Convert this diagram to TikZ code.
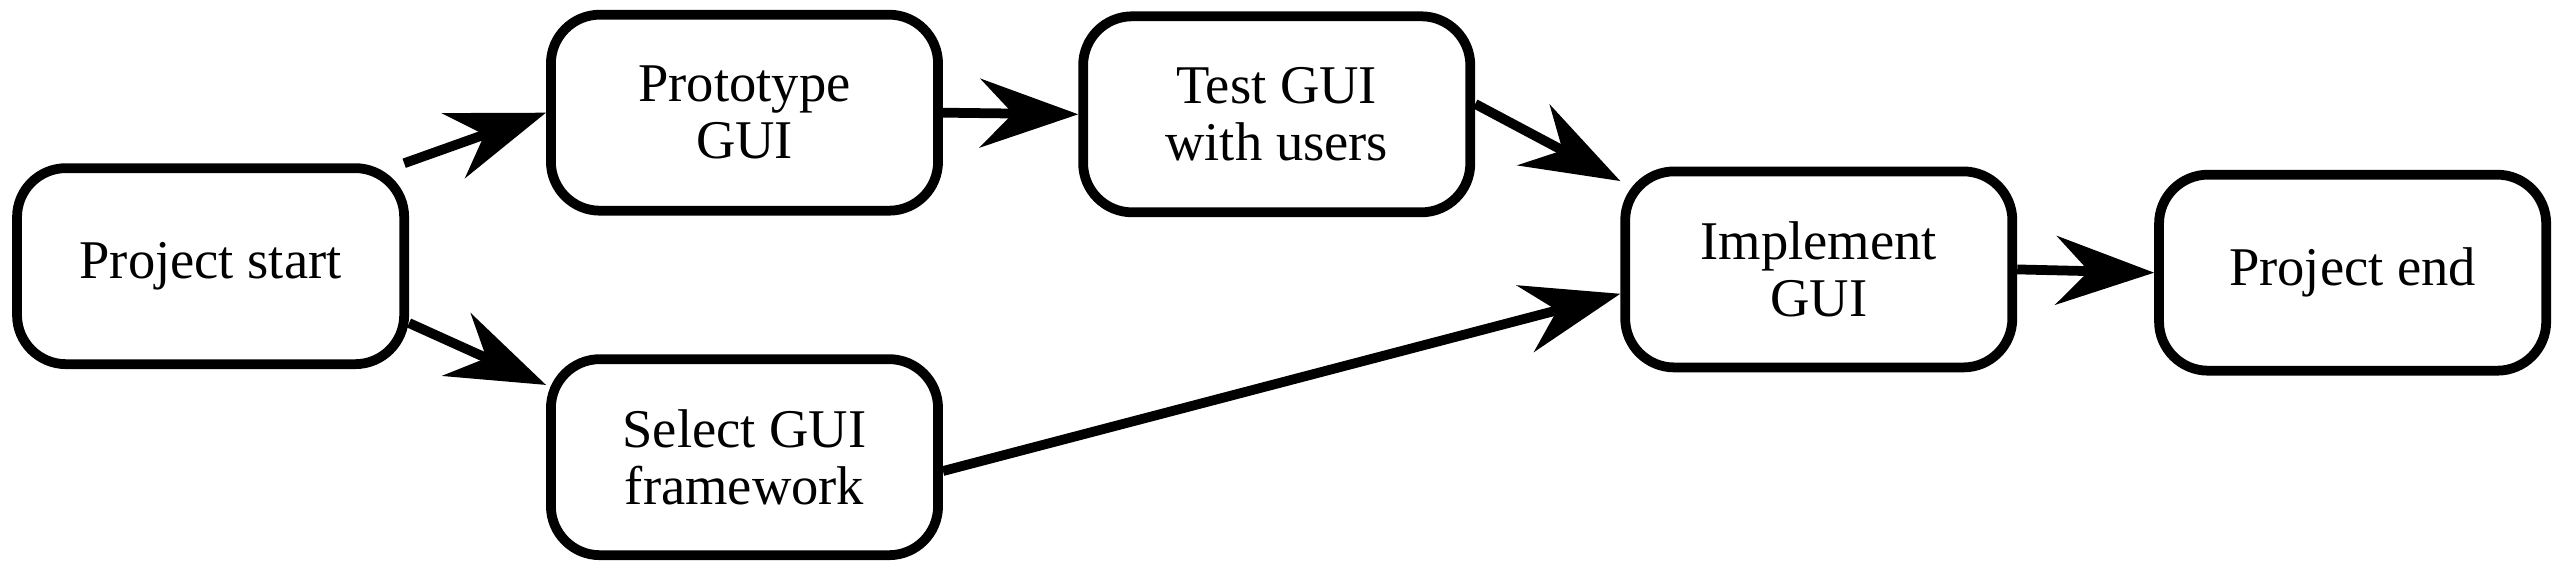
\documentclass[tikz,border=0pt]{standalone}
\usepackage{fontspec}
\setmainfont{Liberation Serif}
\usetikzlibrary{arrows.meta}
\begin{document}
\begin{tikzpicture}[x=0.01cm,y=-0.01cm,
  box/.style={draw,line width=1.7pt,rounded corners=0.3cm,minimum width=2.37cm,minimum height=1.2cm,inner sep=0pt,align=center,font=\fontsize{9.5}{10}\selectfont},
  conn/.style={line width=1.7pt,-{Stealth[length=0.6cm,width=0.42cm,inset=0.2cm]}}]
\useasboundingbox (0,0) rectangle (1568,353);
\node[box] (start) at (129,163) {Project start};
\node[box] (proto) at (456,69) {Prototype\\GUI};
\node[box] (test) at (782,70) {Test GUI\\with users};
\node[box] (select) at (456,280) {Select GUI\\framework};
\node[box] (impl) at (1114,165) {Implement\\GUI};
\node[box] (end) at (1441,167) {Project end};
\draw[conn] (start.28) -- (proto.west);
\draw[conn] (start.-16) -- (select.160);
\draw[conn] (proto.east) -- (test.west);
\draw[conn] (test.3) -- (impl.156);
\draw[conn] (select.-4) -- (impl.187);
\draw[conn] (impl.east) -- (end.west);
\end{tikzpicture}
\end{document}
